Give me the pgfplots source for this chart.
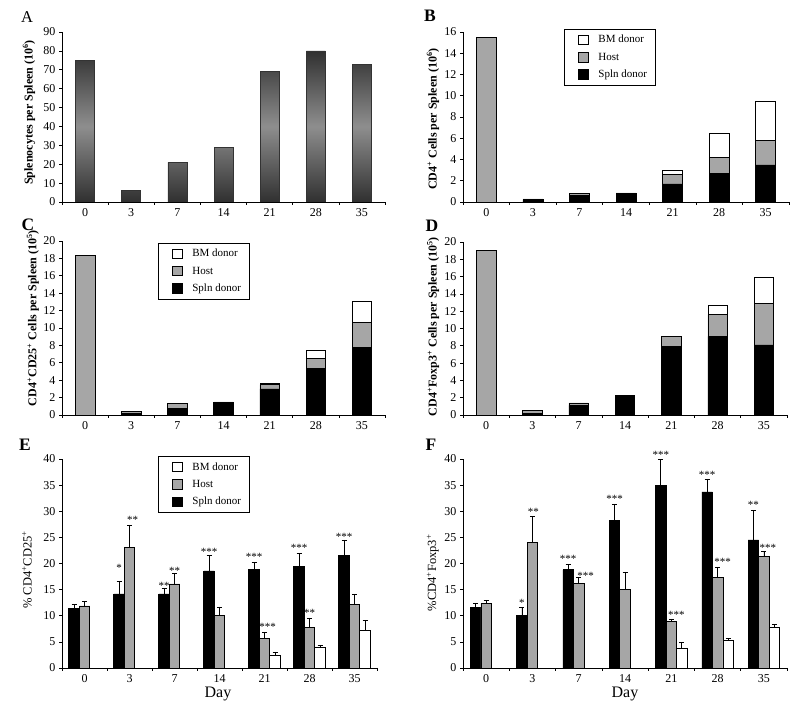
\documentclass[border=0pt]{standalone}
\usepackage{fontspec}
\setmainfont{Liberation Serif}
\usepackage{pgfplots}
\pgfplotsset{compat=1.18}
\definecolor{hostgray}{HTML}{A6A6A6}
\definecolor{bardark}{HTML}{303030}
\definecolor{barlight}{HTML}{8E8E8E}
\newcommand{\tl}{\fontsize{12}{14}\selectfont}
\tikzset{stars/.style={font=\fontsize{11}{11}\selectfont, inner sep=0pt, yshift=-2pt}}
\pgfplotsset{
  panel/.style={
    scale only axis,
    axis lines*=left,
    axis line style={-, black, line width=0.7pt},
    every tick/.style={black, line width=0.6pt},
    major tick length=3pt,
    tick align=outside,
    xmin=-0.5, xmax=6.5,
    xtick={-0.5,0.5,...,6.5},
    xticklabels={},
    extra x ticks={0,1,...,6},
    extra x tick labels={0,3,7,14,21,28,35},
    extra x tick style={major tick length=0pt, tick label style={yshift=-3pt}},
    ymin=0,
    /pgf/number format/assume math mode=true,
    tick label style={font=\tl},
    ylabel style={font=\fontsize{12}{14}\selectfont\bfseries, anchor=center},
  },
  legstyle/.style={
    reverse legend,
    legend cell align=left,
    legend style={at={#1}, anchor=north west, draw=black, line width=0.8pt,
      font=\fontsize{11}{12}\selectfont, inner xsep=6pt, inner ysep=4pt, row sep=4.5pt},
    legend image code/.code={\path[draw=none, fill=none] (0pt,0pt) -- (26pt,0pt);
      \draw[##1, line width=0.6pt] (8pt,-4.5pt) rectangle (17.5pt,5pt);}
  },
  ebar/.style={error bars/.cd, y dir=plus, y explicit,
    error bar style={line width=0.6pt, black},
    error mark options={rotate=90, mark size=2.5pt, line width=0.6pt, black}},
}
\begin{document}
\begin{tikzpicture}[x=1pt,y=1pt]
\useasboundingbox (0,0) rectangle (800,709);
% panel letters
\node[font=\fontsize{16.5}{18}\selectfont] at (27,692) {A};
\node[font=\fontsize{17.5}{18}\selectfont\bfseries] at (430,693) {B};
\node[font=\fontsize{17.5}{18}\selectfont\bfseries] at (28,484) {C};
\node[font=\fontsize{17.5}{18}\selectfont\bfseries] at (432,483) {D};
\node[font=\fontsize{17.5}{18}\selectfont\bfseries] at (25,264) {E};
\node[font=\fontsize{17.5}{18}\selectfont\bfseries] at (431,264) {F};
\node[font=\fontsize{16}{18}\selectfont] at (218,15) {Day};
\node[font=\fontsize{16}{18}\selectfont] at (625,15) {Day};

% ---------- A ----------
\begin{axis}[panel, at={(62pt,507pt)}, anchor=south west, width=323pt, height=170pt,
  ybar, bar width=19pt, ymax=90, ytick={0,10,...,90},
  ylabel={Splenocytes per Spleen (10\textsuperscript{6})},
  ylabel style={at={(axis description cs:-0.102,0.526)}}]
\addplot[ybar, draw=black!80, line width=0.5pt, top color=bardark, bottom color=bardark, middle color=barlight]
  coordinates {(0,75) (1,6) (2,21) (3,29) (4,69) (5,80) (6,73)};
\end{axis}

% ---------- B ----------
\begin{axis}[panel, at={(463pt,507pt)}, anchor=south west, width=326pt, height=170pt,
  ybar stacked, bar width=20pt, ymax=16, ytick={0,2,...,16},
  ylabel={CD4\textsuperscript{+} Cells per Spleen (10\textsuperscript{6})},
  ylabel style={at={(axis description cs:-0.092,0.488)}},
  legstyle={(0.31,1.018)}]
\addplot[fill=black, draw=black, line width=0.6pt] coordinates {(0,0) (1,0.15) (2,0.6) (3,0.7) (4,1.7) (5,2.7) (6,3.5)};
\addplot[fill=hostgray, draw=black, line width=0.6pt] coordinates {(0,15.5) (1,0.15) (2,0.2) (3,0.15) (4,0.9) (5,1.5) (6,2.3)};
\addplot[fill=white, draw=black, line width=0.6pt] coordinates {(0,0) (1,0) (2,0) (3,0) (4,0.4) (5,2.3) (6,3.7)};
\legend{Spln donor, Host, BM donor}
\end{axis}

% ---------- C ----------
\begin{axis}[panel, at={(62pt,294pt)}, anchor=south west, width=323pt, height=174pt,
  ybar stacked, bar width=19.5pt, ymax=20, ytick={0,2,...,20},
  ylabel={CD4\textsuperscript{+}CD25\textsuperscript{+} Cells per Spleen (10\textsuperscript{5})},
  ylabel style={at={(axis description cs:-0.09,0.557)}},
  legstyle={(0.297,0.989)}]
\addplot[fill=black, draw=black, line width=0.6pt] coordinates {(0,0) (1,0.15) (2,0.8) (3,1.3) (4,3.0) (5,5.4) (6,7.8)};
\addplot[fill=hostgray, draw=black, line width=0.6pt] coordinates {(0,18.3) (1,0.3) (2,0.5) (3,0.2) (4,0.5) (5,1.1) (6,2.8)};
\addplot[fill=white, draw=black, line width=0.6pt] coordinates {(0,0) (1,0) (2,0) (3,0) (4,0.2) (5,0.9) (6,2.5)};
\legend{Spln donor, Host, BM donor}
\end{axis}

% ---------- D ----------
\begin{axis}[panel, at={(463pt,294pt)}, anchor=south west, width=324pt, height=173pt,
  ybar stacked, bar width=19.5pt, ymax=20, ytick={0,2,...,20},
  ylabel={CD4\textsuperscript{+}Foxp3\textsuperscript{+} Cells per Spleen (10\textsuperscript{5})},
  ylabel style={at={(axis description cs:-0.092,0.51)}}]
\addplot[fill=black, draw=black, line width=0.6pt] coordinates {(0,0) (1,0.2) (2,1.1) (3,2.2) (4,7.9) (5,9.1) (6,8.1)};
\addplot[fill=hostgray, draw=black, line width=0.6pt] coordinates {(0,19) (1,0.3) (2,0.3) (3,0.05) (4,1.2) (5,2.5) (6,4.8)};
\addplot[fill=white, draw=black, line width=0.6pt] coordinates {(0,0) (1,0) (2,0) (3,0) (4,0) (5,1.1) (6,3.0)};
\end{axis}

% ---------- E ----------
\begin{axis}[panel, at={(62pt,41pt)}, anchor=south west, width=315pt, height=209pt,
  ybar=0pt, bar width=10.5pt, ymax=40, ytick={0,5,...,40}, clip=false,
  ylabel={\% CD4\textsuperscript{+}CD25\textsuperscript{+}},
  ylabel style={at={(axis description cs:-0.111,0.47)}, font=\fontsize{12.5}{14}\selectfont},
  legstyle={(0.305,1.014)}]
\addplot[fill=black, draw=black, line width=0.6pt, ebar] coordinates {
  (0,11.4) +- (0,0.8) (1,14.2) +- (0,2.3) (2,14.2) +- (0,1.1) (3,18.6) +- (0,3.0)
  (4,18.9) +- (0,1.3) (5,19.5) +- (0,2.5) (6,21.6) +- (0,2.9)};
\addplot[fill=hostgray, draw=black, line width=0.6pt, ebar] coordinates {
  (0,11.9) +- (0,0.9) (1,23.1) +- (0,4.3) (2,16.1) +- (0,2.0) (3,10.0) +- (0,1.7)
  (4,5.7) +- (0,1.1) (5,7.7) +- (0,1.9) (6,12.1) +- (0,2.1)};
\addplot[fill=white, draw=black, line width=0.6pt, ebar] coordinates {
  (4,2.4) +- (0,0.7) (5,4.0) +- (0,0.3) (6,7.2) +- (0,1.9)};
\legend{Spln donor, Host, BM donor}
\node[stars, xshift=-10.5pt] at (axis cs:1,19.5) {*};
\node[stars, xshift=3pt] at (axis cs:1,28.7) {**};
\node[stars, xshift=-10.5pt] at (axis cs:2,16.1) {**};
\node[stars] at (axis cs:2,19.0) {**};
\node[stars, xshift=-10.5pt] at (axis cs:3,22.6) {***};
\node[stars, xshift=-10.5pt] at (axis cs:4,21.6) {***};
\node[stars, xshift=3pt] at (axis cs:4,8.2) {***};
\node[stars, xshift=-10.5pt] at (axis cs:5,23.3) {***};
\node[stars] at (axis cs:5,11.0) {**};
\node[stars, xshift=-10.5pt] at (axis cs:6,25.4) {***};
\end{axis}

% ---------- F ----------
\begin{axis}[panel, at={(463pt,41pt)}, anchor=south west, width=324pt, height=209pt,
  ybar=0pt, bar width=10.5pt, ymax=40, ytick={0,5,...,40}, clip=false,
  ylabel={\%CD4\textsuperscript{+}Foxp3\textsuperscript{+}},
  ylabel style={at={(axis description cs:-0.093,0.455)}, font=\fontsize{12.5}{14}\selectfont}]
\addplot[fill=black, draw=black, line width=0.6pt, ebar] coordinates {
  (0,11.6) +- (0,0.8) (1,10.0) +- (0,1.6) (2,18.8) +- (0,1.1) (3,28.3) +- (0,3.1)
  (4,35.0) +- (0,5.0) (5,33.7) +- (0,2.5) (6,24.5) +- (0,5.6)};
\addplot[fill=hostgray, draw=black, line width=0.6pt, ebar] coordinates {
  (0,12.4) +- (0,0.6) (1,24.0) +- (0,5.0) (2,16.2) +- (0,1.2) (3,15.0) +- (0,3.4)
  (4,8.9) +- (0,0.5) (5,17.4) +- (0,1.9) (6,21.3) +- (0,1.0)};
\addplot[fill=white, draw=black, line width=0.6pt, ebar] coordinates {
  (4,3.7) +- (0,1.2) (5,5.3) +- (0,0.4) (6,7.8) +- (0,0.6)};
\node[stars, xshift=-10.5pt] at (axis cs:1,12.8) {*};
\node[stars, xshift=1pt] at (axis cs:1,30.2) {**};
\node[stars, xshift=-10.5pt] at (axis cs:2,21.2) {***};
\node[stars, xshift=7pt] at (axis cs:2,18.1) {***};
\node[stars, xshift=-10.5pt] at (axis cs:3,32.7) {***};
\node[stars, xshift=-10.5pt] at (axis cs:4,41.1) {***};
\node[stars, xshift=5pt] at (axis cs:4,10.5) {***};
\node[stars, xshift=-10.5pt] at (axis cs:5,37.3) {***};
\node[stars, xshift=5pt] at (axis cs:5,20.7) {***};
\node[stars, xshift=-10.5pt] at (axis cs:6,31.6) {**};
\node[stars, xshift=4pt] at (axis cs:6,23.3) {***};
\end{axis}
\end{tikzpicture}
\end{document}
